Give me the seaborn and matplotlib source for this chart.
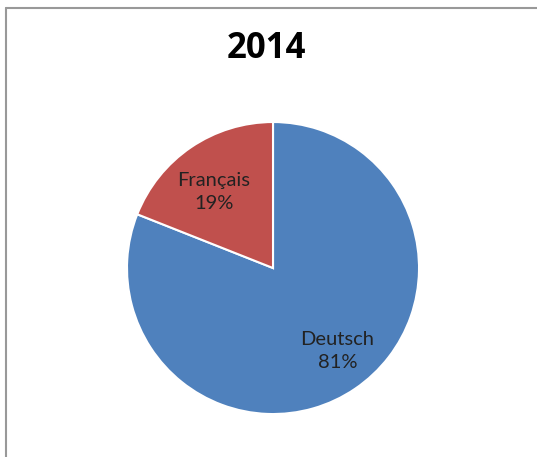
import matplotlib
matplotlib.use('Agg')
import matplotlib.pyplot as plt
import numpy as np
import seaborn as sns

# data
languages = ['Deutsch', 'Français']
shares = [81, 19]
title = '2014'
colors = ['#4F81BD', '#C0504D']

sns.set_theme(style='white')
plt.rcParams['font.family'] = ['Lato', 'DejaVu Sans']

fig = plt.figure(figsize=(5.37, 4.57), dpi=100)
ax = fig.add_axes([0.2365, 0.094, 0.5438, 0.639])

wedges, _ = ax.pie(shares, colors=colors, startangle=90, counterclock=False,
                   wedgeprops=dict(edgecolor='white', linewidth=1.5))

# label placement like Excel's best fit: small angle nudge and radius per slice
nudge = [3.5, 3.5]
dist = [0.72, 0.66]
for w, name, v, dn, r in zip(wedges, languages, shares, nudge, dist):
    theta = np.deg2rad((w.theta1 + w.theta2) / 2 + dn)
    ax.text(r * np.cos(theta), r * np.sin(theta), f'{name}\n{v}%',
            ha='center', va='center', fontsize=14.5, color='#222222',
            linespacing=1.45)

ax.set_xlim(-1, 1)
ax.set_ylim(-1, 1)
ax.set_aspect('equal')

fig.text(0.496, 0.892, title, ha='center', va='center', fontsize=25,
         fontweight='bold', color='black', family=['Open Sans', 'DejaVu Sans'])

# chart area border (only top and left visible in the crop)
fig.add_artist(plt.Line2D([6/537, 6/537], [0, 1 - 8/457], color='#999999', lw=1.5,
                          transform=fig.transFigure))
fig.add_artist(plt.Line2D([6/537, 1], [1 - 8/457, 1 - 8/457], color='#999999', lw=1.5,
                          transform=fig.transFigure))

fig.savefig('out.png', dpi=100)
